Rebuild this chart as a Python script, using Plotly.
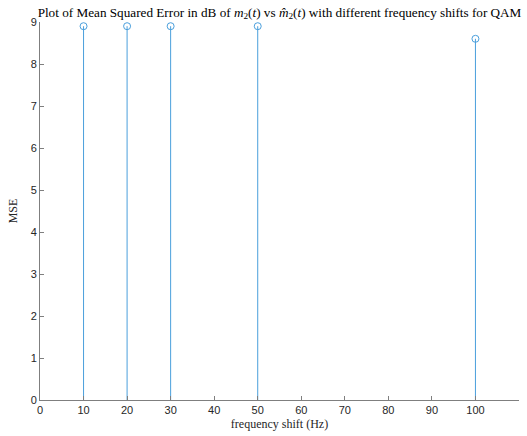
import plotly.graph_objects as go

freq_shift = [10, 20, 30, 50, 100]
mse = [8.90, 8.90, 8.90, 8.90, 8.60]
x_ticks = list(range(0, 111, 10))
y_ticks = list(range(0, 10, 1))

stem_color = "#4a9fdc"

# stem lines (x, 0) -> (x, y)
sx, sy = [], []
for f, m in zip(freq_shift, mse):
    sx += [f, f, None]
    sy += [0, m, None]

fig = go.Figure()
fig.add_trace(go.Scatter(x=sx, y=sy, mode="lines",
                         line=dict(color=stem_color, width=1),
                         hoverinfo="skip", showlegend=False))
fig.add_trace(go.Scatter(x=freq_shift, y=mse, mode="markers",
                         marker=dict(symbol="circle-open", size=7,
                                     color=stem_color, line=dict(width=1)),
                         showlegend=False))

title_text = ("Plot of Mean Squared Error in dB of <i>m</i><sub>2</sub>(<i>t</i>) vs "
              "<i>m\u0302</i><sub>2</sub>(<i>t</i>) with different frequency shifts for QAM")

W, H = 527, 436
fig.update_layout(
    width=W, height=H,
    margin=dict(l=40, r=8, t=22, b=36),
    plot_bgcolor="white", paper_bgcolor="white",
    title=dict(text=title_text, x=0.5, xanchor="center", xref="paper",
               y=1 - 12 / H, yanchor="middle", yref="container",
               font=dict(family="Liberation Serif", size=13.2, color="black")),
    xaxis=dict(range=[0, 110], tickvals=x_ticks, ticktext=[str(v) for v in x_ticks],
               showgrid=False, zeroline=False, showline=True, linecolor="#7f7f7f",
               linewidth=1, ticks="inside", ticklen=4, tickcolor="#7f7f7f",
               tickfont=dict(family="Liberation Sans", size=11, color="#262626"),
               title=dict(text="frequency shift (Hz)", standoff=4,
                          font=dict(family="Liberation Serif", size=12, color="#262626"))),
    yaxis=dict(range=[0, 9], tickvals=y_ticks, ticktext=[str(v) for v in y_ticks],
               showgrid=False, zeroline=False, showline=True, linecolor="#7f7f7f",
               linewidth=1, ticks="inside", ticklen=4, tickcolor="#7f7f7f",
               tickfont=dict(family="Liberation Sans", size=11, color="#262626"),
               title=dict(text="MSE", standoff=10,
                          font=dict(family="Liberation Serif", size=12, color="#262626"))),
)

fig.write_html("out.html", config={"displayModeBar": False},
               post_script="document.body.style.margin='0';")
